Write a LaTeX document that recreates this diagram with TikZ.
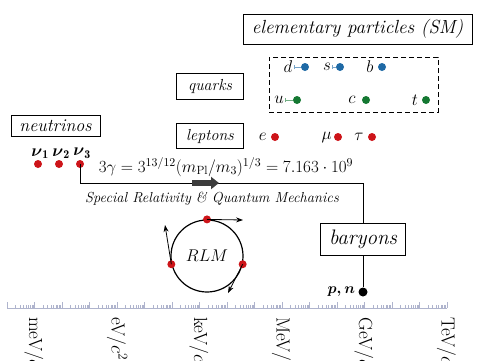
\documentclass[tikz,border=0pt]{standalone}
\usepackage{fix-cm}
\usepackage{amsmath}
\usepackage{fontspec}
\usepackage{xcolor}
\definecolor{dotred}{RGB}{205,20,25}
\definecolor{quarkblue}{RGB}{30,105,165}
\definecolor{quarkgreen}{RGB}{20,120,50}
\definecolor{tickgray}{RGB}{175,180,205}
\definecolor{flowgray}{RGB}{60,60,60}
\usepackage{tikz}
\usetikzlibrary{arrows.meta, positioning}

\begin{document}
\begin{tikzpicture}[x=1pt, y=-1pt,
  tag/.style={rectangle, draw=black, line width=0.9pt, inner sep=0,
              font=\itshape\fontsize{18}{20}\selectfont},
  smalltag/.style={tag, font=\itshape\fontsize{16}{18}\selectfont},
  pdot/.style={circle, fill=#1, inner sep=0, minimum size=8pt},
  sym/.style={inner sep=1pt, font=\fontsize{17}{19}\selectfont},
  link/.style={line width=0.9pt},
  tan/.style={-{Stealth[length=7pt,width=5pt]}, line width=0.8pt},
  mark/.style={{Bar[width=4pt]}-, line width=0.6pt, #1!60}
]
\useasboundingbox (0,0) rectangle (485,360);
\clip (0,0) rectangle (485,360);
\node[tag, minimum width=229pt, minimum height=30pt, font=\itshape\fontsize{19}{21}\selectfont]
  (sm) at (357.5,29) {elementary particles (SM)};
\node[draw, dashed, dash pattern=on 5pt off 3pt, line width=0.9pt,
      minimum width=169pt, minimum height=55pt] (qbox) at (353.5,84.5) {};
\node[smalltag, minimum width=67pt, minimum height=26pt] (quarks)  at (210,86)  {quarks};
\node[smalltag, minimum width=67pt, minimum height=25pt] (leptons) at (210,136) {leptons};
\node[tag, minimum width=89pt, minimum height=21pt] (neutrinos) at (55.5,125.5) {neutrinos};
\node[tag, minimum width=85pt, minimum height=32pt, font=\itshape\fontsize{21}{23}\selectfont]
  (baryons) at (363,239) {baryons};

\node[pdot=quarkblue]  (d) at (305,67) {};
\node[pdot=quarkblue]  (s) at (340,67) {};
\node[pdot=quarkblue]  (b) at (382,67) {};
\node[pdot=quarkgreen] (u) at (297,100) {};
\node[pdot=quarkgreen] (c) at (366,100) {};
\node[pdot=quarkgreen] (t) at (426,100) {};
\node[sym] (dl) at (288,67)  {$d$};
\node[sym] (sl) at (327,67)  {$s$};
\node[sym] (bl) at (370,67)  {$b$};
\node[sym] (ul) at (279,100) {$u$};
\node[sym] (cl) at (352,100) {$c$};
\node[sym] (tl) at (415,100) {$t$};
\draw[mark=quarkblue]  (dl) -- (d);
\draw[mark=quarkblue]  (sl) -- (s);
\draw[mark=quarkgreen] (ul) -- (u);

\node[pdot=dotred] (e)   at (275,137) {};
\node[pdot=dotred] (mu)  at (338,137) {};
\node[pdot=dotred] (tau) at (372,137) {};
\node[sym, left=3pt of e]   (el)   {$e$};
\node[sym, left=1pt of mu]  (mul)  {$\mu$};
\node[sym, left=3pt of tau] (taul) {$\tau$};

\node[pdot=dotred] (n1) at (38,164) {};
\node[pdot=dotred] (n2) at (59,164) {};
\node[pdot=dotred] (n3) at (80,164) {};
\foreach \i in {1,2,3}
  \node[sym, above=0pt of n\i, xshift=2pt] (n\i l) {$\boldsymbol{\nu}_{\mathbf{\i}}$};

\node[sym] (gamma) at (226,167)
  {$3\gamma = 3^{13/12}(m_{\mathrm{Pl}}/m_3)^{1/3} = 7.163\cdot 10^9$};
\coordinate (bend) at (363,183);
\draw[link] (n3.center) |- (bend) -- (baryons.north);
\coordinate (fa) at (192,183);
\coordinate (fb) at (219,183);
\draw[flowgray, line width=6pt, -{Triangle[length=8pt,width=12pt]}] (fa) -- (fb);
\node[font=\itshape\fontsize{14.5}{16}\selectfont] (theory) at (212,199)
  {Special Relativity \& Quantum Mechanics};

\node[circle, draw, line width=1.2pt, minimum size=72pt, inner sep=0,
      font=\fontsize{17}{19}\selectfont] (rlm) at (207,256) {$RLM$};
\node[pdot=dotred] (r1) at (rlm.90)  {};
\node[pdot=dotred] (r2) at (rlm.193) {};
\node[pdot=dotred] (r3) at (rlm.-13) {};
\coordinate (t1) at (243,220);
\coordinate (t2) at (165,225);
\coordinate (t3) at (228,293);
\draw[tan] (r1.center) -- (t1);
\draw[tan] (r2.center) -- (t2);
\draw[tan] (r3.center) -- (t3);

\node[pdot=black, minimum size=9pt] (pn) at (363,292) {};
\node[sym, left=2pt of pn, font=\fontsize{15}{17}\selectfont] (pnl) {$\boldsymbol{p,n}$};
\draw[link] (baryons) -- (pn);

\draw[tickgray, line width=0.6pt] (7,308) -- (447,308);
\foreach \k in {0,...,16}
  \draw[tickgray, line width=0.6pt] ({7+27.5*\k},308) -- ++(0,-6);
\foreach \k in {0,...,15}
  \foreach \m in {2,...,9}
    \draw[tickgray, line width=0.5pt] ({7+27.5*(\k+ln(\m)/ln(10))},308) -- ++(0,-3.5);
\foreach \u/\k in {meV/1, eV/4, keV/7, MeV/10, GeV/13, TeV/16}
  \node[rotate=-90, anchor=west, inner sep=0, font=\fontsize{19}{21}\selectfont]
    (unit\u) at ({7+27.5*\k},317) {\u/$c^2$};
\end{tikzpicture}
\end{document}
